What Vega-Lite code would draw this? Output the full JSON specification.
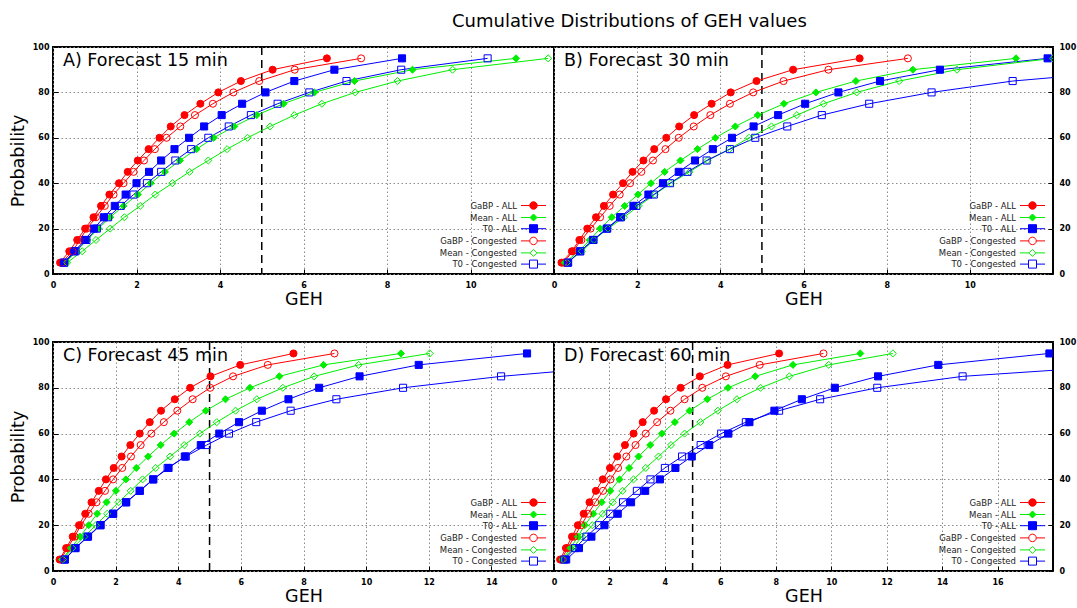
{
"$schema":"https://vega.github.io/schema/vega-lite/v6.json",
"padding":{"left":8,"top":13,"right":0,"bottom":0},
"autosize":{"type":"pad"},
"background":"white",
"title":{"text":"Cumulative Distributions of GEH values","font":"DejaVu Sans","fontSize":18,"fontWeight":"normal","color":"#000","anchor":"start","frame":"group","dx":399,"offset":11},
"columns":2,
"spacing":{"row":68,"column":0},
"bounds":"flush",
"config":{
"view":{"stroke":"#000","strokeWidth":2},
"font":"DejaVu Sans",
"axis":{"grid":true,"gridColor":"#8c8c8c","gridDash":[1.5,2.5],"gridWidth":1,"domain":false,"ticks":true,"tickSize":-5,"tickColor":"#000","tickWidth":1,"labelFont":"DejaVu Sans","labelFontSize":8,"labelFontWeight":"bold","labelColor":"#000","titleFont":"DejaVu Sans","titleFontSize":17.5,"titleFontWeight":"normal","titleColor":"#000","labelFlush":false,"labelOverlap":false},
"legend":{"orient":"bottom-right","direction":"vertical","padding":0,"offset":3.5,"labelFont":"DejaVu Sans","labelFontSize":8.5,"labelColor":"#222","labelAlign":"right","labelOffset":-22,"symbolSize":100,"symbolStrokeWidth":1,"rowPadding":-0.8}
},
"datasets":{"geh":[
{"panel":"A","series":"GaBP - ALL","prob":5,"geh":0.17},{"panel":"A","series":"GaBP - ALL","prob":10,"geh":0.39},{"panel":"A","series":"GaBP - ALL","prob":15,"geh":0.58},{"panel":"A","series":"GaBP - ALL","prob":20,"geh":0.77},{"panel":"A","series":"GaBP - ALL","prob":25,"geh":0.97},{"panel":"A","series":"GaBP - ALL","prob":30,"geh":1.15},{"panel":"A","series":"GaBP - ALL","prob":35,"geh":1.35},{"panel":"A","series":"GaBP - ALL","prob":40,"geh":1.58},{"panel":"A","series":"GaBP - ALL","prob":45,"geh":1.79},{"panel":"A","series":"GaBP - ALL","prob":50,"geh":2.03},{"panel":"A","series":"GaBP - ALL","prob":55,"geh":2.29},{"panel":"A","series":"GaBP - ALL","prob":60,"geh":2.55},{"panel":"A","series":"GaBP - ALL","prob":65,"geh":2.82},{"panel":"A","series":"GaBP - ALL","prob":70,"geh":3.15},{"panel":"A","series":"GaBP - ALL","prob":75,"geh":3.53},{"panel":"A","series":"GaBP - ALL","prob":80,"geh":3.96},{"panel":"A","series":"GaBP - ALL","prob":85,"geh":4.5},{"panel":"A","series":"GaBP - ALL","prob":90,"geh":5.26},{"panel":"A","series":"GaBP - ALL","prob":95,"geh":6.56},
{"panel":"A","series":"Mean - ALL","prob":5,"geh":0.3},{"panel":"A","series":"Mean - ALL","prob":10,"geh":0.56},{"panel":"A","series":"Mean - ALL","prob":15,"geh":0.82},{"panel":"A","series":"Mean - ALL","prob":20,"geh":1.09},{"panel":"A","series":"Mean - ALL","prob":25,"geh":1.37},{"panel":"A","series":"Mean - ALL","prob":30,"geh":1.69},{"panel":"A","series":"Mean - ALL","prob":35,"geh":2.03},{"panel":"A","series":"Mean - ALL","prob":40,"geh":2.34},{"panel":"A","series":"Mean - ALL","prob":45,"geh":2.68},{"panel":"A","series":"Mean - ALL","prob":50,"geh":3.04},{"panel":"A","series":"Mean - ALL","prob":55,"geh":3.44},{"panel":"A","series":"Mean - ALL","prob":60,"geh":3.85},{"panel":"A","series":"Mean - ALL","prob":65,"geh":4.34},{"panel":"A","series":"Mean - ALL","prob":70,"geh":4.88},{"panel":"A","series":"Mean - ALL","prob":75,"geh":5.52},{"panel":"A","series":"Mean - ALL","prob":80,"geh":6.26},{"panel":"A","series":"Mean - ALL","prob":85,"geh":7.22},{"panel":"A","series":"Mean - ALL","prob":90,"geh":8.61},{"panel":"A","series":"Mean - ALL","prob":95,"geh":11.09},
{"panel":"A","series":"T0 - ALL","prob":5,"geh":0.26},{"panel":"A","series":"T0 - ALL","prob":10,"geh":0.51},{"panel":"A","series":"T0 - ALL","prob":15,"geh":0.77},{"panel":"A","series":"T0 - ALL","prob":20,"geh":0.98},{"panel":"A","series":"T0 - ALL","prob":25,"geh":1.22},{"panel":"A","series":"T0 - ALL","prob":30,"geh":1.48},{"panel":"A","series":"T0 - ALL","prob":35,"geh":1.74},{"panel":"A","series":"T0 - ALL","prob":40,"geh":2.0},{"panel":"A","series":"T0 - ALL","prob":45,"geh":2.3},{"panel":"A","series":"T0 - ALL","prob":50,"geh":2.59},{"panel":"A","series":"T0 - ALL","prob":55,"geh":2.91},{"panel":"A","series":"T0 - ALL","prob":60,"geh":3.26},{"panel":"A","series":"T0 - ALL","prob":65,"geh":3.62},{"panel":"A","series":"T0 - ALL","prob":70,"geh":4.04},{"panel":"A","series":"T0 - ALL","prob":75,"geh":4.53},{"panel":"A","series":"T0 - ALL","prob":80,"geh":5.09},{"panel":"A","series":"T0 - ALL","prob":85,"geh":5.78},{"panel":"A","series":"T0 - ALL","prob":90,"geh":6.74},{"panel":"A","series":"T0 - ALL","prob":95,"geh":8.36},
{"panel":"A","series":"GaBP - Congested","prob":5,"geh":0.21},{"panel":"A","series":"GaBP - Congested","prob":10,"geh":0.47},{"panel":"A","series":"GaBP - Congested","prob":15,"geh":0.64},{"panel":"A","series":"GaBP - Congested","prob":20,"geh":0.81},{"panel":"A","series":"GaBP - Congested","prob":25,"geh":1.03},{"panel":"A","series":"GaBP - Congested","prob":30,"geh":1.24},{"panel":"A","series":"GaBP - Congested","prob":35,"geh":1.45},{"panel":"A","series":"GaBP - Congested","prob":40,"geh":1.69},{"panel":"A","series":"GaBP - Congested","prob":45,"geh":1.93},{"panel":"A","series":"GaBP - Congested","prob":50,"geh":2.18},{"panel":"A","series":"GaBP - Congested","prob":55,"geh":2.44},{"panel":"A","series":"GaBP - Congested","prob":60,"geh":2.72},{"panel":"A","series":"GaBP - Congested","prob":65,"geh":3.05},{"panel":"A","series":"GaBP - Congested","prob":70,"geh":3.4},{"panel":"A","series":"GaBP - Congested","prob":75,"geh":3.83},{"panel":"A","series":"GaBP - Congested","prob":80,"geh":4.32},{"panel":"A","series":"GaBP - Congested","prob":85,"geh":4.94},{"panel":"A","series":"GaBP - Congested","prob":90,"geh":5.79},{"panel":"A","series":"GaBP - Congested","prob":95,"geh":7.38},
{"panel":"A","series":"Mean - Congested","prob":5,"geh":0.34},{"panel":"A","series":"Mean - Congested","prob":10,"geh":0.7},{"panel":"A","series":"Mean - Congested","prob":15,"geh":1.03},{"panel":"A","series":"Mean - Congested","prob":20,"geh":1.37},{"panel":"A","series":"Mean - Congested","prob":25,"geh":1.71},{"panel":"A","series":"Mean - Congested","prob":30,"geh":2.09},{"panel":"A","series":"Mean - Congested","prob":35,"geh":2.45},{"panel":"A","series":"Mean - Congested","prob":40,"geh":2.86},{"panel":"A","series":"Mean - Congested","prob":45,"geh":3.27},{"panel":"A","series":"Mean - Congested","prob":50,"geh":3.72},{"panel":"A","series":"Mean - Congested","prob":55,"geh":4.17},{"panel":"A","series":"Mean - Congested","prob":60,"geh":4.66},{"panel":"A","series":"Mean - Congested","prob":65,"geh":5.2},{"panel":"A","series":"Mean - Congested","prob":70,"geh":5.78},{"panel":"A","series":"Mean - Congested","prob":75,"geh":6.44},{"panel":"A","series":"Mean - Congested","prob":80,"geh":7.24},{"panel":"A","series":"Mean - Congested","prob":85,"geh":8.25},{"panel":"A","series":"Mean - Congested","prob":90,"geh":9.57},{"panel":"A","series":"Mean - Congested","prob":95,"geh":11.86},
{"panel":"A","series":"T0 - Congested","prob":5,"geh":0.27},{"panel":"A","series":"T0 - Congested","prob":10,"geh":0.54},{"panel":"A","series":"T0 - Congested","prob":15,"geh":0.8},{"panel":"A","series":"T0 - Congested","prob":20,"geh":1.05},{"panel":"A","series":"T0 - Congested","prob":25,"geh":1.32},{"panel":"A","series":"T0 - Congested","prob":30,"geh":1.62},{"panel":"A","series":"T0 - Congested","prob":35,"geh":1.93},{"panel":"A","series":"T0 - Congested","prob":40,"geh":2.25},{"panel":"A","series":"T0 - Congested","prob":45,"geh":2.59},{"panel":"A","series":"T0 - Congested","prob":50,"geh":2.93},{"panel":"A","series":"T0 - Congested","prob":55,"geh":3.31},{"panel":"A","series":"T0 - Congested","prob":60,"geh":3.72},{"panel":"A","series":"T0 - Congested","prob":65,"geh":4.21},{"panel":"A","series":"T0 - Congested","prob":70,"geh":4.74},{"panel":"A","series":"T0 - Congested","prob":75,"geh":5.38},{"panel":"A","series":"T0 - Congested","prob":80,"geh":6.14},{"panel":"A","series":"T0 - Congested","prob":85,"geh":7.03},{"panel":"A","series":"T0 - Congested","prob":90,"geh":8.34},{"panel":"A","series":"T0 - Congested","prob":95,"geh":10.41},
{"panel":"B","series":"GaBP - ALL","prob":5,"geh":0.18},{"panel":"B","series":"GaBP - ALL","prob":10,"geh":0.43},{"panel":"B","series":"GaBP - ALL","prob":15,"geh":0.61},{"panel":"B","series":"GaBP - ALL","prob":20,"geh":0.8},{"panel":"B","series":"GaBP - ALL","prob":25,"geh":1.01},{"panel":"B","series":"GaBP - ALL","prob":30,"geh":1.2},{"panel":"B","series":"GaBP - ALL","prob":35,"geh":1.42},{"panel":"B","series":"GaBP - ALL","prob":40,"geh":1.66},{"panel":"B","series":"GaBP - ALL","prob":45,"geh":1.89},{"panel":"B","series":"GaBP - ALL","prob":50,"geh":2.15},{"panel":"B","series":"GaBP - ALL","prob":55,"geh":2.41},{"panel":"B","series":"GaBP - ALL","prob":60,"geh":2.7},{"panel":"B","series":"GaBP - ALL","prob":65,"geh":3.01},{"panel":"B","series":"GaBP - ALL","prob":70,"geh":3.37},{"panel":"B","series":"GaBP - ALL","prob":75,"geh":3.79},{"panel":"B","series":"GaBP - ALL","prob":80,"geh":4.25},{"panel":"B","series":"GaBP - ALL","prob":85,"geh":4.87},{"panel":"B","series":"GaBP - ALL","prob":90,"geh":5.75},{"panel":"B","series":"GaBP - ALL","prob":95,"geh":7.35},
{"panel":"B","series":"Mean - ALL","prob":5,"geh":0.26},{"panel":"B","series":"Mean - ALL","prob":10,"geh":0.6},{"panel":"B","series":"Mean - ALL","prob":15,"geh":0.86},{"panel":"B","series":"Mean - ALL","prob":20,"geh":1.11},{"panel":"B","series":"Mean - ALL","prob":25,"geh":1.39},{"panel":"B","series":"Mean - ALL","prob":30,"geh":1.7},{"panel":"B","series":"Mean - ALL","prob":35,"geh":2.02},{"panel":"B","series":"Mean - ALL","prob":40,"geh":2.33},{"panel":"B","series":"Mean - ALL","prob":45,"geh":2.66},{"panel":"B","series":"Mean - ALL","prob":50,"geh":3.04},{"panel":"B","series":"Mean - ALL","prob":55,"geh":3.45},{"panel":"B","series":"Mean - ALL","prob":60,"geh":3.88},{"panel":"B","series":"Mean - ALL","prob":65,"geh":4.36},{"panel":"B","series":"Mean - ALL","prob":70,"geh":4.9},{"panel":"B","series":"Mean - ALL","prob":75,"geh":5.53},{"panel":"B","series":"Mean - ALL","prob":80,"geh":6.3},{"panel":"B","series":"Mean - ALL","prob":85,"geh":7.26},{"panel":"B","series":"Mean - ALL","prob":90,"geh":8.63},{"panel":"B","series":"Mean - ALL","prob":95,"geh":11.11},
{"panel":"B","series":"T0 - ALL","prob":5,"geh":0.33},{"panel":"B","series":"T0 - ALL","prob":10,"geh":0.63},{"panel":"B","series":"T0 - ALL","prob":15,"geh":0.94},{"panel":"B","series":"T0 - ALL","prob":20,"geh":1.27},{"panel":"B","series":"T0 - ALL","prob":25,"geh":1.59},{"panel":"B","series":"T0 - ALL","prob":30,"geh":1.91},{"panel":"B","series":"T0 - ALL","prob":35,"geh":2.27},{"panel":"B","series":"T0 - ALL","prob":40,"geh":2.62},{"panel":"B","series":"T0 - ALL","prob":45,"geh":3.0},{"panel":"B","series":"T0 - ALL","prob":50,"geh":3.39},{"panel":"B","series":"T0 - ALL","prob":55,"geh":3.82},{"panel":"B","series":"T0 - ALL","prob":60,"geh":4.28},{"panel":"B","series":"T0 - ALL","prob":65,"geh":4.8},{"panel":"B","series":"T0 - ALL","prob":70,"geh":5.39},{"panel":"B","series":"T0 - ALL","prob":75,"geh":6.04},{"panel":"B","series":"T0 - ALL","prob":80,"geh":6.84},{"panel":"B","series":"T0 - ALL","prob":85,"geh":7.84},{"panel":"B","series":"T0 - ALL","prob":90,"geh":9.28},{"panel":"B","series":"T0 - ALL","prob":95,"geh":11.87},
{"panel":"B","series":"GaBP - Congested","prob":5,"geh":0.23},{"panel":"B","series":"GaBP - Congested","prob":10,"geh":0.45},{"panel":"B","series":"GaBP - Congested","prob":15,"geh":0.66},{"panel":"B","series":"GaBP - Congested","prob":20,"geh":0.88},{"panel":"B","series":"GaBP - Congested","prob":25,"geh":1.11},{"panel":"B","series":"GaBP - Congested","prob":30,"geh":1.34},{"panel":"B","series":"GaBP - Congested","prob":35,"geh":1.58},{"panel":"B","series":"GaBP - Congested","prob":40,"geh":1.83},{"panel":"B","series":"GaBP - Congested","prob":45,"geh":2.1},{"panel":"B","series":"GaBP - Congested","prob":50,"geh":2.38},{"panel":"B","series":"GaBP - Congested","prob":55,"geh":2.68},{"panel":"B","series":"GaBP - Congested","prob":60,"geh":3.0},{"panel":"B","series":"GaBP - Congested","prob":65,"geh":3.36},{"panel":"B","series":"GaBP - Congested","prob":70,"geh":3.76},{"panel":"B","series":"GaBP - Congested","prob":75,"geh":4.23},{"panel":"B","series":"GaBP - Congested","prob":80,"geh":4.79},{"panel":"B","series":"GaBP - Congested","prob":85,"geh":5.52},{"panel":"B","series":"GaBP - Congested","prob":90,"geh":6.6},{"panel":"B","series":"GaBP - Congested","prob":95,"geh":8.51},
{"panel":"B","series":"Mean - Congested","prob":5,"geh":0.31},{"panel":"B","series":"Mean - Congested","prob":10,"geh":0.67},{"panel":"B","series":"Mean - Congested","prob":15,"geh":0.96},{"panel":"B","series":"Mean - Congested","prob":20,"geh":1.3},{"panel":"B","series":"Mean - Congested","prob":25,"geh":1.68},{"panel":"B","series":"Mean - Congested","prob":30,"geh":2.04},{"panel":"B","series":"Mean - Congested","prob":35,"geh":2.42},{"panel":"B","series":"Mean - Congested","prob":40,"geh":2.81},{"panel":"B","series":"Mean - Congested","prob":45,"geh":3.26},{"panel":"B","series":"Mean - Congested","prob":50,"geh":3.69},{"panel":"B","series":"Mean - Congested","prob":55,"geh":4.22},{"panel":"B","series":"Mean - Congested","prob":60,"geh":4.69},{"panel":"B","series":"Mean - Congested","prob":65,"geh":5.23},{"panel":"B","series":"Mean - Congested","prob":70,"geh":5.84},{"panel":"B","series":"Mean - Congested","prob":75,"geh":6.48},{"panel":"B","series":"Mean - Congested","prob":80,"geh":7.28},{"panel":"B","series":"Mean - Congested","prob":85,"geh":8.3},{"panel":"B","series":"Mean - Congested","prob":90,"geh":9.69},{"panel":"B","series":"Mean - Congested","prob":95,"geh":12.0},
{"panel":"B","series":"T0 - Congested","prob":5,"geh":0.34},{"panel":"B","series":"T0 - Congested","prob":10,"geh":0.63},{"panel":"B","series":"T0 - Congested","prob":15,"geh":0.95},{"panel":"B","series":"T0 - Congested","prob":20,"geh":1.28},{"panel":"B","series":"T0 - Congested","prob":25,"geh":1.61},{"panel":"B","series":"T0 - Congested","prob":30,"geh":1.98},{"panel":"B","series":"T0 - Congested","prob":35,"geh":2.4},{"panel":"B","series":"T0 - Congested","prob":40,"geh":2.79},{"panel":"B","series":"T0 - Congested","prob":45,"geh":3.21},{"panel":"B","series":"T0 - Congested","prob":50,"geh":3.67},{"panel":"B","series":"T0 - Congested","prob":55,"geh":4.23},{"panel":"B","series":"T0 - Congested","prob":60,"geh":4.84},{"panel":"B","series":"T0 - Congested","prob":65,"geh":5.61},{"panel":"B","series":"T0 - Congested","prob":70,"geh":6.44},{"panel":"B","series":"T0 - Congested","prob":75,"geh":7.58},{"panel":"B","series":"T0 - Congested","prob":80,"geh":9.08},{"panel":"B","series":"T0 - Congested","prob":85,"geh":11.03},{"panel":"B","series":"T0 - Congested","prob":90,"geh":14.2},{"panel":"B","series":"T0 - Congested","prob":95,"geh":20.0},
{"panel":"C","series":"GaBP - ALL","prob":5,"geh":0.21},{"panel":"C","series":"GaBP - ALL","prob":10,"geh":0.42},{"panel":"C","series":"GaBP - ALL","prob":15,"geh":0.63},{"panel":"C","series":"GaBP - ALL","prob":20,"geh":0.83},{"panel":"C","series":"GaBP - ALL","prob":25,"geh":1.03},{"panel":"C","series":"GaBP - ALL","prob":30,"geh":1.23},{"panel":"C","series":"GaBP - ALL","prob":35,"geh":1.46},{"panel":"C","series":"GaBP - ALL","prob":40,"geh":1.69},{"panel":"C","series":"GaBP - ALL","prob":45,"geh":1.94},{"panel":"C","series":"GaBP - ALL","prob":50,"geh":2.19},{"panel":"C","series":"GaBP - ALL","prob":55,"geh":2.47},{"panel":"C","series":"GaBP - ALL","prob":60,"geh":2.77},{"panel":"C","series":"GaBP - ALL","prob":65,"geh":3.09},{"panel":"C","series":"GaBP - ALL","prob":70,"geh":3.45},{"panel":"C","series":"GaBP - ALL","prob":75,"geh":3.89},{"panel":"C","series":"GaBP - ALL","prob":80,"geh":4.38},{"panel":"C","series":"GaBP - ALL","prob":85,"geh":5.03},{"panel":"C","series":"GaBP - ALL","prob":90,"geh":5.98},{"panel":"C","series":"GaBP - ALL","prob":95,"geh":7.68},
{"panel":"C","series":"Mean - ALL","prob":5,"geh":0.29},{"panel":"C","series":"Mean - ALL","prob":10,"geh":0.57},{"panel":"C","series":"Mean - ALL","prob":15,"geh":0.86},{"panel":"C","series":"Mean - ALL","prob":20,"geh":1.14},{"panel":"C","series":"Mean - ALL","prob":25,"geh":1.41},{"panel":"C","series":"Mean - ALL","prob":30,"geh":1.71},{"panel":"C","series":"Mean - ALL","prob":35,"geh":2.01},{"panel":"C","series":"Mean - ALL","prob":40,"geh":2.33},{"panel":"C","series":"Mean - ALL","prob":45,"geh":2.66},{"panel":"C","series":"Mean - ALL","prob":50,"geh":3.04},{"panel":"C","series":"Mean - ALL","prob":55,"geh":3.44},{"panel":"C","series":"Mean - ALL","prob":60,"geh":3.87},{"panel":"C","series":"Mean - ALL","prob":65,"geh":4.35},{"panel":"C","series":"Mean - ALL","prob":70,"geh":4.88},{"panel":"C","series":"Mean - ALL","prob":75,"geh":5.51},{"panel":"C","series":"Mean - ALL","prob":80,"geh":6.29},{"panel":"C","series":"Mean - ALL","prob":85,"geh":7.23},{"panel":"C","series":"Mean - ALL","prob":90,"geh":8.64},{"panel":"C","series":"Mean - ALL","prob":95,"geh":11.11},
{"panel":"C","series":"T0 - ALL","prob":5,"geh":0.38},{"panel":"C","series":"T0 - ALL","prob":10,"geh":0.72},{"panel":"C","series":"T0 - ALL","prob":15,"geh":1.12},{"panel":"C","series":"T0 - ALL","prob":20,"geh":1.52},{"panel":"C","series":"T0 - ALL","prob":25,"geh":1.92},{"panel":"C","series":"T0 - ALL","prob":30,"geh":2.33},{"panel":"C","series":"T0 - ALL","prob":35,"geh":2.77},{"panel":"C","series":"T0 - ALL","prob":40,"geh":3.2},{"panel":"C","series":"T0 - ALL","prob":45,"geh":3.69},{"panel":"C","series":"T0 - ALL","prob":50,"geh":4.21},{"panel":"C","series":"T0 - ALL","prob":55,"geh":4.72},{"panel":"C","series":"T0 - ALL","prob":60,"geh":5.31},{"panel":"C","series":"T0 - ALL","prob":65,"geh":5.94},{"panel":"C","series":"T0 - ALL","prob":70,"geh":6.67},{"panel":"C","series":"T0 - ALL","prob":75,"geh":7.52},{"panel":"C","series":"T0 - ALL","prob":80,"geh":8.5},{"panel":"C","series":"T0 - ALL","prob":85,"geh":9.79},{"panel":"C","series":"T0 - ALL","prob":90,"geh":11.68},{"panel":"C","series":"T0 - ALL","prob":95,"geh":15.14},
{"panel":"C","series":"GaBP - Congested","prob":5,"geh":0.25},{"panel":"C","series":"GaBP - Congested","prob":10,"geh":0.46},{"panel":"C","series":"GaBP - Congested","prob":15,"geh":0.69},{"panel":"C","series":"GaBP - Congested","prob":20,"geh":0.89},{"panel":"C","series":"GaBP - Congested","prob":25,"geh":1.14},{"panel":"C","series":"GaBP - Congested","prob":30,"geh":1.39},{"panel":"C","series":"GaBP - Congested","prob":35,"geh":1.66},{"panel":"C","series":"GaBP - Congested","prob":40,"geh":1.92},{"panel":"C","series":"GaBP - Congested","prob":45,"geh":2.21},{"panel":"C","series":"GaBP - Congested","prob":50,"geh":2.49},{"panel":"C","series":"GaBP - Congested","prob":55,"geh":2.8},{"panel":"C","series":"GaBP - Congested","prob":60,"geh":3.14},{"panel":"C","series":"GaBP - Congested","prob":65,"geh":3.54},{"panel":"C","series":"GaBP - Congested","prob":70,"geh":3.97},{"panel":"C","series":"GaBP - Congested","prob":75,"geh":4.46},{"panel":"C","series":"GaBP - Congested","prob":80,"geh":5.02},{"panel":"C","series":"GaBP - Congested","prob":85,"geh":5.75},{"panel":"C","series":"GaBP - Congested","prob":90,"geh":6.86},{"panel":"C","series":"GaBP - Congested","prob":95,"geh":8.99},
{"panel":"C","series":"Mean - Congested","prob":5,"geh":0.32},{"panel":"C","series":"Mean - Congested","prob":10,"geh":0.62},{"panel":"C","series":"Mean - Congested","prob":15,"geh":1.0},{"panel":"C","series":"Mean - Congested","prob":20,"geh":1.37},{"panel":"C","series":"Mean - Congested","prob":25,"geh":1.73},{"panel":"C","series":"Mean - Congested","prob":30,"geh":2.09},{"panel":"C","series":"Mean - Congested","prob":35,"geh":2.48},{"panel":"C","series":"Mean - Congested","prob":40,"geh":2.86},{"panel":"C","series":"Mean - Congested","prob":45,"geh":3.28},{"panel":"C","series":"Mean - Congested","prob":50,"geh":3.74},{"panel":"C","series":"Mean - Congested","prob":55,"geh":4.19},{"panel":"C","series":"Mean - Congested","prob":60,"geh":4.69},{"panel":"C","series":"Mean - Congested","prob":65,"geh":5.23},{"panel":"C","series":"Mean - Congested","prob":70,"geh":5.83},{"panel":"C","series":"Mean - Congested","prob":75,"geh":6.51},{"panel":"C","series":"Mean - Congested","prob":80,"geh":7.34},{"panel":"C","series":"Mean - Congested","prob":85,"geh":8.34},{"panel":"C","series":"Mean - Congested","prob":90,"geh":9.76},{"panel":"C","series":"Mean - Congested","prob":95,"geh":12.03},
{"panel":"C","series":"T0 - Congested","prob":5,"geh":0.37},{"panel":"C","series":"T0 - Congested","prob":10,"geh":0.71},{"panel":"C","series":"T0 - Congested","prob":15,"geh":1.1},{"panel":"C","series":"T0 - Congested","prob":20,"geh":1.51},{"panel":"C","series":"T0 - Congested","prob":25,"geh":1.92},{"panel":"C","series":"T0 - Congested","prob":30,"geh":2.34},{"panel":"C","series":"T0 - Congested","prob":35,"geh":2.77},{"panel":"C","series":"T0 - Congested","prob":40,"geh":3.2},{"panel":"C","series":"T0 - Congested","prob":45,"geh":3.66},{"panel":"C","series":"T0 - Congested","prob":50,"geh":4.24},{"panel":"C","series":"T0 - Congested","prob":55,"geh":4.91},{"panel":"C","series":"T0 - Congested","prob":60,"geh":5.62},{"panel":"C","series":"T0 - Congested","prob":65,"geh":6.49},{"panel":"C","series":"T0 - Congested","prob":70,"geh":7.59},{"panel":"C","series":"T0 - Congested","prob":75,"geh":9.05},{"panel":"C","series":"T0 - Congested","prob":80,"geh":11.18},{"panel":"C","series":"T0 - Congested","prob":85,"geh":14.31},{"panel":"C","series":"T0 - Congested","prob":90,"geh":18.6},{"panel":"C","series":"T0 - Congested","prob":95,"geh":25.0},
{"panel":"D","series":"GaBP - ALL","prob":5,"geh":0.22},{"panel":"D","series":"GaBP - ALL","prob":10,"geh":0.43},{"panel":"D","series":"GaBP - ALL","prob":15,"geh":0.65},{"panel":"D","series":"GaBP - ALL","prob":20,"geh":0.86},{"panel":"D","series":"GaBP - ALL","prob":25,"geh":1.07},{"panel":"D","series":"GaBP - ALL","prob":30,"geh":1.28},{"panel":"D","series":"GaBP - ALL","prob":35,"geh":1.51},{"panel":"D","series":"GaBP - ALL","prob":40,"geh":1.76},{"panel":"D","series":"GaBP - ALL","prob":45,"geh":2.02},{"panel":"D","series":"GaBP - ALL","prob":50,"geh":2.28},{"panel":"D","series":"GaBP - ALL","prob":55,"geh":2.56},{"panel":"D","series":"GaBP - ALL","prob":60,"geh":2.87},{"panel":"D","series":"GaBP - ALL","prob":65,"geh":3.2},{"panel":"D","series":"GaBP - ALL","prob":70,"geh":3.61},{"panel":"D","series":"GaBP - ALL","prob":75,"geh":4.04},{"panel":"D","series":"GaBP - ALL","prob":80,"geh":4.57},{"panel":"D","series":"GaBP - ALL","prob":85,"geh":5.26},{"panel":"D","series":"GaBP - ALL","prob":90,"geh":6.26},{"panel":"D","series":"GaBP - ALL","prob":95,"geh":8.12},
{"panel":"D","series":"Mean - ALL","prob":5,"geh":0.31},{"panel":"D","series":"Mean - ALL","prob":10,"geh":0.59},{"panel":"D","series":"Mean - ALL","prob":15,"geh":0.86},{"panel":"D","series":"Mean - ALL","prob":20,"geh":1.11},{"panel":"D","series":"Mean - ALL","prob":25,"geh":1.42},{"panel":"D","series":"Mean - ALL","prob":30,"geh":1.72},{"panel":"D","series":"Mean - ALL","prob":35,"geh":2.03},{"panel":"D","series":"Mean - ALL","prob":40,"geh":2.36},{"panel":"D","series":"Mean - ALL","prob":45,"geh":2.71},{"panel":"D","series":"Mean - ALL","prob":50,"geh":3.05},{"panel":"D","series":"Mean - ALL","prob":55,"geh":3.47},{"panel":"D","series":"Mean - ALL","prob":60,"geh":3.89},{"panel":"D","series":"Mean - ALL","prob":65,"geh":4.36},{"panel":"D","series":"Mean - ALL","prob":70,"geh":4.89},{"panel":"D","series":"Mean - ALL","prob":75,"geh":5.53},{"panel":"D","series":"Mean - ALL","prob":80,"geh":6.28},{"panel":"D","series":"Mean - ALL","prob":85,"geh":7.26},{"panel":"D","series":"Mean - ALL","prob":90,"geh":8.62},{"panel":"D","series":"Mean - ALL","prob":95,"geh":11.05},
{"panel":"D","series":"T0 - ALL","prob":5,"geh":0.44},{"panel":"D","series":"T0 - ALL","prob":10,"geh":0.9},{"panel":"D","series":"T0 - ALL","prob":15,"geh":1.35},{"panel":"D","series":"T0 - ALL","prob":20,"geh":1.82},{"panel":"D","series":"T0 - ALL","prob":25,"geh":2.3},{"panel":"D","series":"T0 - ALL","prob":30,"geh":2.78},{"panel":"D","series":"T0 - ALL","prob":35,"geh":3.29},{"panel":"D","series":"T0 - ALL","prob":40,"geh":3.82},{"panel":"D","series":"T0 - ALL","prob":45,"geh":4.38},{"panel":"D","series":"T0 - ALL","prob":50,"geh":4.97},{"panel":"D","series":"T0 - ALL","prob":55,"geh":5.6},{"panel":"D","series":"T0 - ALL","prob":60,"geh":6.29},{"panel":"D","series":"T0 - ALL","prob":65,"geh":7.05},{"panel":"D","series":"T0 - ALL","prob":70,"geh":7.95},{"panel":"D","series":"T0 - ALL","prob":75,"geh":8.94},{"panel":"D","series":"T0 - ALL","prob":80,"geh":10.13},{"panel":"D","series":"T0 - ALL","prob":85,"geh":11.69},{"panel":"D","series":"T0 - ALL","prob":90,"geh":13.86},{"panel":"D","series":"T0 - ALL","prob":95,"geh":17.87},
{"panel":"D","series":"GaBP - Congested","prob":5,"geh":0.27},{"panel":"D","series":"GaBP - Congested","prob":10,"geh":0.49},{"panel":"D","series":"GaBP - Congested","prob":15,"geh":0.74},{"panel":"D","series":"GaBP - Congested","prob":20,"geh":0.98},{"panel":"D","series":"GaBP - Congested","prob":25,"geh":1.23},{"panel":"D","series":"GaBP - Congested","prob":30,"geh":1.49},{"panel":"D","series":"GaBP - Congested","prob":35,"geh":1.77},{"panel":"D","series":"GaBP - Congested","prob":40,"geh":2.04},{"panel":"D","series":"GaBP - Congested","prob":45,"geh":2.31},{"panel":"D","series":"GaBP - Congested","prob":50,"geh":2.61},{"panel":"D","series":"GaBP - Congested","prob":55,"geh":2.94},{"panel":"D","series":"GaBP - Congested","prob":60,"geh":3.31},{"panel":"D","series":"GaBP - Congested","prob":65,"geh":3.72},{"panel":"D","series":"GaBP - Congested","prob":70,"geh":4.2},{"panel":"D","series":"GaBP - Congested","prob":75,"geh":4.71},{"panel":"D","series":"GaBP - Congested","prob":80,"geh":5.35},{"panel":"D","series":"GaBP - Congested","prob":85,"geh":6.2},{"panel":"D","series":"GaBP - Congested","prob":90,"geh":7.42},{"panel":"D","series":"GaBP - Congested","prob":95,"geh":9.72},
{"panel":"D","series":"Mean - Congested","prob":5,"geh":0.34},{"panel":"D","series":"Mean - Congested","prob":10,"geh":0.68},{"panel":"D","series":"Mean - Congested","prob":15,"geh":1.01},{"panel":"D","series":"Mean - Congested","prob":20,"geh":1.38},{"panel":"D","series":"Mean - Congested","prob":25,"geh":1.75},{"panel":"D","series":"Mean - Congested","prob":30,"geh":2.12},{"panel":"D","series":"Mean - Congested","prob":35,"geh":2.47},{"panel":"D","series":"Mean - Congested","prob":40,"geh":2.87},{"panel":"D","series":"Mean - Congested","prob":45,"geh":3.31},{"panel":"D","series":"Mean - Congested","prob":50,"geh":3.77},{"panel":"D","series":"Mean - Congested","prob":55,"geh":4.22},{"panel":"D","series":"Mean - Congested","prob":60,"geh":4.71},{"panel":"D","series":"Mean - Congested","prob":65,"geh":5.28},{"panel":"D","series":"Mean - Congested","prob":70,"geh":5.91},{"panel":"D","series":"Mean - Congested","prob":75,"geh":6.6},{"panel":"D","series":"Mean - Congested","prob":80,"geh":7.45},{"panel":"D","series":"Mean - Congested","prob":85,"geh":8.49},{"panel":"D","series":"Mean - Congested","prob":90,"geh":9.91},{"panel":"D","series":"Mean - Congested","prob":95,"geh":12.22},
{"panel":"D","series":"T0 - Congested","prob":5,"geh":0.37},{"panel":"D","series":"T0 - Congested","prob":10,"geh":0.76},{"panel":"D","series":"T0 - Congested","prob":15,"geh":1.17},{"panel":"D","series":"T0 - Congested","prob":20,"geh":1.62},{"panel":"D","series":"T0 - Congested","prob":25,"geh":2.03},{"panel":"D","series":"T0 - Congested","prob":30,"geh":2.49},{"panel":"D","series":"T0 - Congested","prob":35,"geh":2.99},{"panel":"D","series":"T0 - Congested","prob":40,"geh":3.48},{"panel":"D","series":"T0 - Congested","prob":45,"geh":4.0},{"panel":"D","series":"T0 - Congested","prob":50,"geh":4.62},{"panel":"D","series":"T0 - Congested","prob":55,"geh":5.29},{"panel":"D","series":"T0 - Congested","prob":60,"geh":6.03},{"panel":"D","series":"T0 - Congested","prob":65,"geh":6.92},{"panel":"D","series":"T0 - Congested","prob":70,"geh":8.12},{"panel":"D","series":"T0 - Congested","prob":75,"geh":9.6},{"panel":"D","series":"T0 - Congested","prob":80,"geh":11.66},{"panel":"D","series":"T0 - Congested","prob":85,"geh":14.74},{"panel":"D","series":"T0 - Congested","prob":90,"geh":20.9},{"panel":"D","series":"T0 - Congested","prob":95,"geh":28.0}
]},
"concat":[
{"width":501,"height":227,
"title":{"text":"A) Forecast 15 min","anchor":"start","frame":"group","offset":0,"dx":10,"dy":40,"baseline":"alphabetic","font":"DejaVu Sans","fontSize":17.5,"fontWeight":"normal","color":"#000"},
"layer":[
{"data":{"values":[{}]},"mark":{"type":"rule","color":"#000","strokeWidth":1.5,"strokeDash":[8,5]},"encoding":{"x":{"datum":5,"type":"quantitative","scale":{"domain":[0,12],"nice":false,"zero":false},"axis":{"title":"GEH","values":[0,2,4,6,8,10],"labelPadding":12,"titlePadding":1}}}},
{"data":{"name":"geh"},"transform":[{"filter":"datum.panel === 'A'"}],"mark":{"type":"line","strokeWidth":1,"clip":true},"encoding":{"x":{"field":"geh","type":"quantitative","scale":{"domain":[0,12],"nice":false,"zero":false},"axis":{"title":"GEH","values":[0,2,4,6,8,10],"labelPadding":12,"titlePadding":1}},"y":{"field":"prob","type":"quantitative","scale":{"domain":[0,100],"nice":false},"axis":{"title":"Probability","orient":"left","values":[0,20,40,60,80,100],"labelPadding":9,"titlePadding":5}},"order":{"field":"prob","type":"quantitative"},"stroke":{"field":"series","type":"nominal","scale":{"domain":["GaBP - ALL","Mean - ALL","T0 - ALL","GaBP - Congested","Mean - Congested","T0 - Congested"],"range":["#ff0000","#00ee00","#0000ff","#ff0000","#00ee00","#0000ff"]},"legend":null}}},
{"data":{"name":"geh"},"transform":[{"filter":"datum.panel === 'A'"}],"mark":{"type":"point","opacity":1,"strokeWidth":1,"size":50,"clip":true},"encoding":{"x":{"field":"geh","type":"quantitative"},"y":{"field":"prob","type":"quantitative"},"shape":{"field":"series","type":"nominal","scale":{"domain":["GaBP - ALL","Mean - ALL","T0 - ALL","GaBP - Congested","Mean - Congested","T0 - Congested"],"range":["circle","diamond","square","circle","diamond","square"]},"legend":null},"fill":{"field":"series","type":"nominal","scale":{"domain":["GaBP - ALL","Mean - ALL","T0 - ALL","GaBP - Congested","Mean - Congested","T0 - Congested"],"range":["#ff0000","#00ee00","#0000ff","transparent","transparent","transparent"]},"legend":null},"stroke":{"field":"series","type":"nominal","scale":{"domain":["GaBP - ALL","Mean - ALL","T0 - ALL","GaBP - Congested","Mean - Congested","T0 - Congested"],"range":["#ff0000","#00ee00","#0000ff","#ff0000","#00ee00","#0000ff"]},"legend":null}}},
{"data":{"name":"geh"},"transform":[{"filter":"false"}],"mark":{"type":"point","opacity":1,"strokeWidth":1},"encoding":{"x":{"field":"geh","type":"quantitative"},"y":{"field":"prob","type":"quantitative"},"shape":{"field":"series","type":"nominal","scale":{"domain":["GaBP - ALL","Mean - ALL","T0 - ALL","GaBP - Congested","Mean - Congested","T0 - Congested"],"range":["M-2.5,0H-0.75M0.75,0H2.5M0.75,0A0.75,0.75,0,1,1,-0.75,0A0.75,0.75,0,1,1,0.75,0ZM3.1,0","M-2.5,0H-0.7M0.7,0H2.5M0,-0.7L0.7,0L0,0.7L-0.7,0ZM3.1,0","M-2.5,0H-0.8M0.8,0H2.5M-0.8,-0.8H0.8V0.8H-0.8ZM3.1,0","M-2.5,0H-0.75M0.75,0H2.5M0.75,0A0.75,0.75,0,1,1,-0.75,0A0.75,0.75,0,1,1,0.75,0ZM3.1,0","M-2.5,0H-0.7M0.7,0H2.5M0,-0.7L0.7,0L0,0.7L-0.7,0ZM3.1,0","M-2.5,0H-0.8M0.8,0H2.5M-0.8,-0.8H0.8V0.8H-0.8ZM3.1,0"]},"legend":{"title":null}},"fill":{"field":"series","type":"nominal","scale":{"domain":["GaBP - ALL","Mean - ALL","T0 - ALL","GaBP - Congested","Mean - Congested","T0 - Congested"],"range":["#ff0000","#00ee00","#0000ff","transparent","transparent","transparent"]},"legend":{"title":null}},"stroke":{"field":"series","type":"nominal","scale":{"domain":["GaBP - ALL","Mean - ALL","T0 - ALL","GaBP - Congested","Mean - Congested","T0 - Congested"],"range":["#ff0000","#00ee00","#0000ff","#ff0000","#00ee00","#0000ff"]},"legend":{"title":null}}}}
],
"resolve":{"scale":{"shape":"independent","fill":"independent","stroke":"independent"}}
},
{"width":499,"height":227,
"title":{"text":"B) Forecast 30 min","anchor":"start","frame":"group","offset":0,"dx":10,"dy":40,"baseline":"alphabetic","font":"DejaVu Sans","fontSize":17.5,"fontWeight":"normal","color":"#000"},
"layer":[
{"data":{"values":[{}]},"mark":{"type":"rule","color":"#000","strokeWidth":1.5,"strokeDash":[8,5]},"encoding":{"x":{"datum":5,"type":"quantitative","scale":{"domain":[0,12],"nice":false,"zero":false},"axis":{"title":"GEH","values":[0,2,4,6,8,10],"labelPadding":12,"titlePadding":1}}}},
{"data":{"name":"geh"},"transform":[{"filter":"datum.panel === 'B'"}],"mark":{"type":"line","strokeWidth":1,"clip":true},"encoding":{"x":{"field":"geh","type":"quantitative","scale":{"domain":[0,12],"nice":false,"zero":false},"axis":{"title":"GEH","values":[0,2,4,6,8,10],"labelPadding":12,"titlePadding":1}},"y":{"field":"prob","type":"quantitative","scale":{"domain":[0,100],"nice":false},"axis":{"title":null,"orient":"right","values":[0,20,40,60,80,100],"labelPadding":11}},"order":{"field":"prob","type":"quantitative"},"stroke":{"field":"series","type":"nominal","scale":{"domain":["GaBP - ALL","Mean - ALL","T0 - ALL","GaBP - Congested","Mean - Congested","T0 - Congested"],"range":["#ff0000","#00ee00","#0000ff","#ff0000","#00ee00","#0000ff"]},"legend":null}}},
{"data":{"name":"geh"},"transform":[{"filter":"datum.panel === 'B'"}],"mark":{"type":"point","opacity":1,"strokeWidth":1,"size":50,"clip":true},"encoding":{"x":{"field":"geh","type":"quantitative"},"y":{"field":"prob","type":"quantitative"},"shape":{"field":"series","type":"nominal","scale":{"domain":["GaBP - ALL","Mean - ALL","T0 - ALL","GaBP - Congested","Mean - Congested","T0 - Congested"],"range":["circle","diamond","square","circle","diamond","square"]},"legend":null},"fill":{"field":"series","type":"nominal","scale":{"domain":["GaBP - ALL","Mean - ALL","T0 - ALL","GaBP - Congested","Mean - Congested","T0 - Congested"],"range":["#ff0000","#00ee00","#0000ff","transparent","transparent","transparent"]},"legend":null},"stroke":{"field":"series","type":"nominal","scale":{"domain":["GaBP - ALL","Mean - ALL","T0 - ALL","GaBP - Congested","Mean - Congested","T0 - Congested"],"range":["#ff0000","#00ee00","#0000ff","#ff0000","#00ee00","#0000ff"]},"legend":null}}},
{"data":{"name":"geh"},"transform":[{"filter":"false"}],"mark":{"type":"point","opacity":1,"strokeWidth":1},"encoding":{"x":{"field":"geh","type":"quantitative"},"y":{"field":"prob","type":"quantitative"},"shape":{"field":"series","type":"nominal","scale":{"domain":["GaBP - ALL","Mean - ALL","T0 - ALL","GaBP - Congested","Mean - Congested","T0 - Congested"],"range":["M-2.5,0H-0.75M0.75,0H2.5M0.75,0A0.75,0.75,0,1,1,-0.75,0A0.75,0.75,0,1,1,0.75,0ZM3.1,0","M-2.5,0H-0.7M0.7,0H2.5M0,-0.7L0.7,0L0,0.7L-0.7,0ZM3.1,0","M-2.5,0H-0.8M0.8,0H2.5M-0.8,-0.8H0.8V0.8H-0.8ZM3.1,0","M-2.5,0H-0.75M0.75,0H2.5M0.75,0A0.75,0.75,0,1,1,-0.75,0A0.75,0.75,0,1,1,0.75,0ZM3.1,0","M-2.5,0H-0.7M0.7,0H2.5M0,-0.7L0.7,0L0,0.7L-0.7,0ZM3.1,0","M-2.5,0H-0.8M0.8,0H2.5M-0.8,-0.8H0.8V0.8H-0.8ZM3.1,0"]},"legend":{"title":null}},"fill":{"field":"series","type":"nominal","scale":{"domain":["GaBP - ALL","Mean - ALL","T0 - ALL","GaBP - Congested","Mean - Congested","T0 - Congested"],"range":["#ff0000","#00ee00","#0000ff","transparent","transparent","transparent"]},"legend":{"title":null}},"stroke":{"field":"series","type":"nominal","scale":{"domain":["GaBP - ALL","Mean - ALL","T0 - ALL","GaBP - Congested","Mean - Congested","T0 - Congested"],"range":["#ff0000","#00ee00","#0000ff","#ff0000","#00ee00","#0000ff"]},"legend":{"title":null}}}}
],
"resolve":{"scale":{"shape":"independent","fill":"independent","stroke":"independent"}}
},
{"width":501,"height":229,
"title":{"text":"C) Forecast 45 min","anchor":"start","frame":"group","offset":0,"dx":10,"dy":40,"baseline":"alphabetic","font":"DejaVu Sans","fontSize":17.5,"fontWeight":"normal","color":"#000"},
"layer":[
{"data":{"values":[{}]},"mark":{"type":"rule","color":"#000","strokeWidth":1.5,"strokeDash":[8,5]},"encoding":{"x":{"datum":5,"type":"quantitative","scale":{"domain":[0,16],"nice":false,"zero":false},"axis":{"title":"GEH","values":[0,2,4,6,8,10,12,14],"labelPadding":12,"titlePadding":1}}}},
{"data":{"name":"geh"},"transform":[{"filter":"datum.panel === 'C'"}],"mark":{"type":"line","strokeWidth":1,"clip":true},"encoding":{"x":{"field":"geh","type":"quantitative","scale":{"domain":[0,16],"nice":false,"zero":false},"axis":{"title":"GEH","values":[0,2,4,6,8,10,12,14],"labelPadding":12,"titlePadding":1}},"y":{"field":"prob","type":"quantitative","scale":{"domain":[0,100],"nice":false},"axis":{"title":"Probability","orient":"left","values":[0,20,40,60,80,100],"labelPadding":9,"titlePadding":5}},"order":{"field":"prob","type":"quantitative"},"stroke":{"field":"series","type":"nominal","scale":{"domain":["GaBP - ALL","Mean - ALL","T0 - ALL","GaBP - Congested","Mean - Congested","T0 - Congested"],"range":["#ff0000","#00ee00","#0000ff","#ff0000","#00ee00","#0000ff"]},"legend":null}}},
{"data":{"name":"geh"},"transform":[{"filter":"datum.panel === 'C'"}],"mark":{"type":"point","opacity":1,"strokeWidth":1,"size":50,"clip":true},"encoding":{"x":{"field":"geh","type":"quantitative"},"y":{"field":"prob","type":"quantitative"},"shape":{"field":"series","type":"nominal","scale":{"domain":["GaBP - ALL","Mean - ALL","T0 - ALL","GaBP - Congested","Mean - Congested","T0 - Congested"],"range":["circle","diamond","square","circle","diamond","square"]},"legend":null},"fill":{"field":"series","type":"nominal","scale":{"domain":["GaBP - ALL","Mean - ALL","T0 - ALL","GaBP - Congested","Mean - Congested","T0 - Congested"],"range":["#ff0000","#00ee00","#0000ff","transparent","transparent","transparent"]},"legend":null},"stroke":{"field":"series","type":"nominal","scale":{"domain":["GaBP - ALL","Mean - ALL","T0 - ALL","GaBP - Congested","Mean - Congested","T0 - Congested"],"range":["#ff0000","#00ee00","#0000ff","#ff0000","#00ee00","#0000ff"]},"legend":null}}},
{"data":{"name":"geh"},"transform":[{"filter":"false"}],"mark":{"type":"point","opacity":1,"strokeWidth":1},"encoding":{"x":{"field":"geh","type":"quantitative"},"y":{"field":"prob","type":"quantitative"},"shape":{"field":"series","type":"nominal","scale":{"domain":["GaBP - ALL","Mean - ALL","T0 - ALL","GaBP - Congested","Mean - Congested","T0 - Congested"],"range":["M-2.5,0H-0.75M0.75,0H2.5M0.75,0A0.75,0.75,0,1,1,-0.75,0A0.75,0.75,0,1,1,0.75,0ZM3.1,0","M-2.5,0H-0.7M0.7,0H2.5M0,-0.7L0.7,0L0,0.7L-0.7,0ZM3.1,0","M-2.5,0H-0.8M0.8,0H2.5M-0.8,-0.8H0.8V0.8H-0.8ZM3.1,0","M-2.5,0H-0.75M0.75,0H2.5M0.75,0A0.75,0.75,0,1,1,-0.75,0A0.75,0.75,0,1,1,0.75,0ZM3.1,0","M-2.5,0H-0.7M0.7,0H2.5M0,-0.7L0.7,0L0,0.7L-0.7,0ZM3.1,0","M-2.5,0H-0.8M0.8,0H2.5M-0.8,-0.8H0.8V0.8H-0.8ZM3.1,0"]},"legend":{"title":null}},"fill":{"field":"series","type":"nominal","scale":{"domain":["GaBP - ALL","Mean - ALL","T0 - ALL","GaBP - Congested","Mean - Congested","T0 - Congested"],"range":["#ff0000","#00ee00","#0000ff","transparent","transparent","transparent"]},"legend":{"title":null}},"stroke":{"field":"series","type":"nominal","scale":{"domain":["GaBP - ALL","Mean - ALL","T0 - ALL","GaBP - Congested","Mean - Congested","T0 - Congested"],"range":["#ff0000","#00ee00","#0000ff","#ff0000","#00ee00","#0000ff"]},"legend":{"title":null}}}}
],
"resolve":{"scale":{"shape":"independent","fill":"independent","stroke":"independent"}}
},
{"width":499,"height":229,
"title":{"text":"D) Forecast 60 min","anchor":"start","frame":"group","offset":0,"dx":10,"dy":40,"baseline":"alphabetic","font":"DejaVu Sans","fontSize":17.5,"fontWeight":"normal","color":"#000"},
"layer":[
{"data":{"values":[{}]},"mark":{"type":"rule","color":"#000","strokeWidth":1.5,"strokeDash":[8,5]},"encoding":{"x":{"datum":5,"type":"quantitative","scale":{"domain":[0,18],"nice":false,"zero":false},"axis":{"title":"GEH","values":[0,2,4,6,8,10,12,14,16],"labelPadding":12,"titlePadding":1}}}},
{"data":{"name":"geh"},"transform":[{"filter":"datum.panel === 'D'"}],"mark":{"type":"line","strokeWidth":1,"clip":true},"encoding":{"x":{"field":"geh","type":"quantitative","scale":{"domain":[0,18],"nice":false,"zero":false},"axis":{"title":"GEH","values":[0,2,4,6,8,10,12,14,16],"labelPadding":12,"titlePadding":1}},"y":{"field":"prob","type":"quantitative","scale":{"domain":[0,100],"nice":false},"axis":{"title":null,"orient":"right","values":[0,20,40,60,80,100],"labelPadding":11}},"order":{"field":"prob","type":"quantitative"},"stroke":{"field":"series","type":"nominal","scale":{"domain":["GaBP - ALL","Mean - ALL","T0 - ALL","GaBP - Congested","Mean - Congested","T0 - Congested"],"range":["#ff0000","#00ee00","#0000ff","#ff0000","#00ee00","#0000ff"]},"legend":null}}},
{"data":{"name":"geh"},"transform":[{"filter":"datum.panel === 'D'"}],"mark":{"type":"point","opacity":1,"strokeWidth":1,"size":50,"clip":true},"encoding":{"x":{"field":"geh","type":"quantitative"},"y":{"field":"prob","type":"quantitative"},"shape":{"field":"series","type":"nominal","scale":{"domain":["GaBP - ALL","Mean - ALL","T0 - ALL","GaBP - Congested","Mean - Congested","T0 - Congested"],"range":["circle","diamond","square","circle","diamond","square"]},"legend":null},"fill":{"field":"series","type":"nominal","scale":{"domain":["GaBP - ALL","Mean - ALL","T0 - ALL","GaBP - Congested","Mean - Congested","T0 - Congested"],"range":["#ff0000","#00ee00","#0000ff","transparent","transparent","transparent"]},"legend":null},"stroke":{"field":"series","type":"nominal","scale":{"domain":["GaBP - ALL","Mean - ALL","T0 - ALL","GaBP - Congested","Mean - Congested","T0 - Congested"],"range":["#ff0000","#00ee00","#0000ff","#ff0000","#00ee00","#0000ff"]},"legend":null}}},
{"data":{"name":"geh"},"transform":[{"filter":"false"}],"mark":{"type":"point","opacity":1,"strokeWidth":1},"encoding":{"x":{"field":"geh","type":"quantitative"},"y":{"field":"prob","type":"quantitative"},"shape":{"field":"series","type":"nominal","scale":{"domain":["GaBP - ALL","Mean - ALL","T0 - ALL","GaBP - Congested","Mean - Congested","T0 - Congested"],"range":["M-2.5,0H-0.75M0.75,0H2.5M0.75,0A0.75,0.75,0,1,1,-0.75,0A0.75,0.75,0,1,1,0.75,0ZM3.1,0","M-2.5,0H-0.7M0.7,0H2.5M0,-0.7L0.7,0L0,0.7L-0.7,0ZM3.1,0","M-2.5,0H-0.8M0.8,0H2.5M-0.8,-0.8H0.8V0.8H-0.8ZM3.1,0","M-2.5,0H-0.75M0.75,0H2.5M0.75,0A0.75,0.75,0,1,1,-0.75,0A0.75,0.75,0,1,1,0.75,0ZM3.1,0","M-2.5,0H-0.7M0.7,0H2.5M0,-0.7L0.7,0L0,0.7L-0.7,0ZM3.1,0","M-2.5,0H-0.8M0.8,0H2.5M-0.8,-0.8H0.8V0.8H-0.8ZM3.1,0"]},"legend":{"title":null}},"fill":{"field":"series","type":"nominal","scale":{"domain":["GaBP - ALL","Mean - ALL","T0 - ALL","GaBP - Congested","Mean - Congested","T0 - Congested"],"range":["#ff0000","#00ee00","#0000ff","transparent","transparent","transparent"]},"legend":{"title":null}},"stroke":{"field":"series","type":"nominal","scale":{"domain":["GaBP - ALL","Mean - ALL","T0 - ALL","GaBP - Congested","Mean - Congested","T0 - Congested"],"range":["#ff0000","#00ee00","#0000ff","#ff0000","#00ee00","#0000ff"]},"legend":{"title":null}}}}
],
"resolve":{"scale":{"shape":"independent","fill":"independent","stroke":"independent"}}
}
]
}
